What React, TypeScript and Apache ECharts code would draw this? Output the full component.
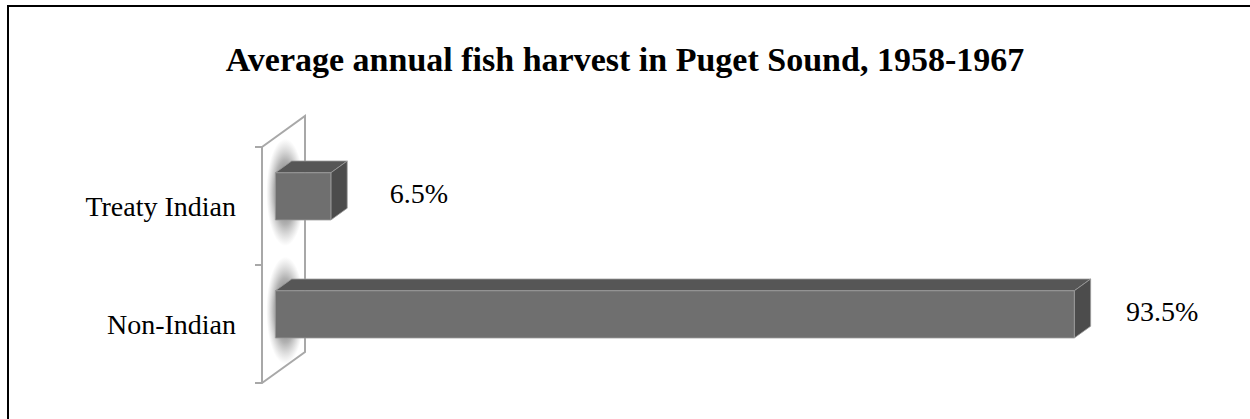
import React, { useEffect, useRef } from 'react';
import * as echarts from 'echarts';

const TITLE = 'Average annual fish harvest in Puget Sound, 1958-1967';
const categories = ['Treaty Indian', 'Non-Indian'];
const shares = [6.5, 93.5];
const AXIS_MAX = 100;

const FONT = "'Liberation Serif', 'Times New Roman', Times, serif";

export default function App() {
  const ref = useRef<HTMLDivElement>(null);

  useEffect(() => {
    if (!ref.current) return;
    const chart = echarts.init(ref.current, null, { renderer: 'svg' });

    // 3D depth vector of the side wall and fractional depth of the bars
    const WALL_DX = 43;
    const WALL_DY = -31;
    const F1 = 0.31;
    const F2 = 0.69;

    const wallSeries = {
      type: 'custom',
      coordinateSystem: 'cartesian2d',
      z: 1,
      silent: true,
      encode: { x: 0, y: 1 },
      data: [[0, 0]],
      renderItem: (params: any) => {
        const cs = params.coordSys;
        const x0 = cs.x;
        const y0 = cs.y;
        const y1 = cs.y + cs.height;
        return {
          type: 'polyline',
          shape: {
            points: [
              [x0, y0],
              [x0 + WALL_DX, y0 + WALL_DY],
              [x0 + WALL_DX, y1 + WALL_DY],
              [x0, y1],
            ],
          },
          style: { stroke: '#a8a8a8', lineWidth: 2, fill: 'none' },
        };
      },
    };

    const barSeries = {
      type: 'custom',
      coordinateSystem: 'cartesian2d',
      z: 2,
      encode: { x: 0, y: 1 },
      data: shares.map((v, i) => [v, i]),
      renderItem: (params: any, api: any) => {
        const v = api.value(0);
        const c = api.value(1);
        const p0 = api.coord([0, c]);
        const p1 = api.coord([v, c]);
        const band = api.size([0, 1])[1];
        const h = band * 0.4;
        const ox = F1 * WALL_DX;
        const oy = F1 * WALL_DY;
        const x = p0[0] + ox;
        const w = p1[0] - p0[0];
        const yTop = p0[1] + oy - h / 2;
        const ddx = (F2 - F1) * WALL_DX;
        const ddy = (F2 - F1) * WALL_DY;
        const edge = '#9c9c9c';
        return {
          type: 'group',
          children: [
            {
              type: 'ellipse',
              shape: { cx: x + 10, cy: yTop + h / 2 - 4, rx: 19, ry: h / 2 + 30 },
              style: {
                fill: {
                  type: 'radial',
                  x: 0.5,
                  y: 0.5,
                  r: 0.5,
                  colorStops: [
                    { offset: 0, color: 'rgba(60,60,60,0.95)' },
                    { offset: 0.6, color: 'rgba(100,100,100,0.5)' },
                    { offset: 1, color: 'rgba(140,140,140,0)' },
                  ],
                },
              },
            },
            {
              type: 'polygon',
              shape: {
                points: [
                  [x, yTop],
                  [x + w, yTop],
                  [x + w + ddx, yTop + ddy],
                  [x + ddx, yTop + ddy],
                ],
              },
              style: { fill: '#565656', stroke: edge, lineWidth: 0.8 },
            },
            {
              type: 'polygon',
              shape: {
                points: [
                  [x + w, yTop],
                  [x + w + ddx, yTop + ddy],
                  [x + w + ddx, yTop + h + ddy],
                  [x + w, yTop + h],
                ],
              },
              style: { fill: '#4c4c4c', stroke: edge, lineWidth: 0.8 },
            },
            {
              type: 'rect',
              shape: { x, y: yTop, width: w, height: h },
              style: { fill: '#6f6f6f', stroke: edge, lineWidth: 0.8 },
            },
            {
              type: 'text',
              style: {
                text: v.toFixed(1) + '%',
                x: x + w + 88,
                y: yTop + h / 2 - 3,
                fill: '#000',
                fontSize: 28,
                fontFamily: FONT,
                align: 'center',
                verticalAlign: 'middle',
              },
            },
          ],
        };
      },
    };

    chart.setOption({
      animation: false,
      backgroundColor: '#ffffff',
      title: {
        text: TITLE,
        left: 'center',
        top: 37,
        textStyle: { fontFamily: FONT, fontSize: 34, fontWeight: 'bold', color: '#000' },
      },
      grid: { left: 262, top: 147, width: 854.5, height: 236 },
      xAxis: { type: 'value', min: 0, max: AXIS_MAX, show: false },
      yAxis: {
        type: 'category',
        data: categories,
        inverse: true,
        axisLine: { show: true, lineStyle: { color: '#a8a8a8', width: 2 } },
        axisTick: { show: true, length: 7, lineStyle: { color: '#a8a8a8', width: 2 } },
        axisLabel: {
          margin: 26,
          color: '#000',
          fontSize: 28,
          fontFamily: FONT,
          padding: [9, 0, 0, 0],
        },
        splitLine: { show: false },
      },
      graphic: [
        {
          type: 'line',
          shape: { x1: 7, y1: 6, x2: 1250, y2: 6 },
          style: { stroke: '#000', lineWidth: 2 },
        },
        {
          type: 'line',
          shape: { x1: 8, y1: 5, x2: 8, y2: 419 },
          style: { stroke: '#000', lineWidth: 2 },
        },
      ],
      series: [wallSeries, barSeries],
    });

    return () => chart.dispose();
  }, []);

  return (
    <div
      ref={ref}
      style={{ position: 'fixed', left: 0, top: 0, width: 1250, height: 419, background: '#fff' }}
    />
  );
}
